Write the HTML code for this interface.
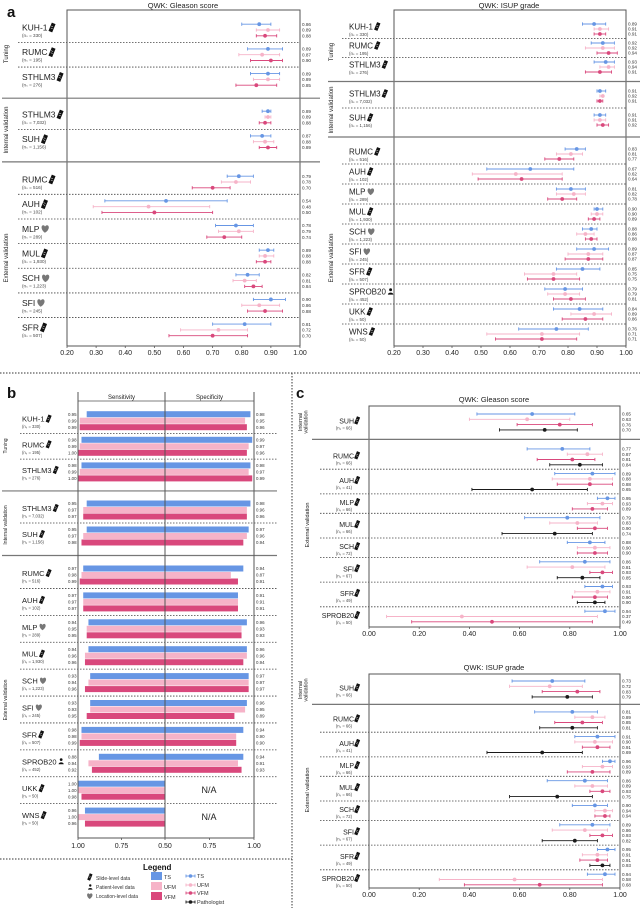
<!DOCTYPE html>
<html><head><meta charset="utf-8"><style>
html,body{margin:0;padding:0;background:#fff;}
svg{display:block;font-family:"Liberation Sans",Arial,sans-serif;}
</style></head><body>
<svg id="fig" width="640" height="908" viewBox="0 0 640 908" xmlns="http://www.w3.org/2000/svg">
<text x="7" y="17" font-size="15" font-weight="bold" fill="#111">a</text>
<text x="7" y="398" font-size="15" font-weight="bold" fill="#111">b</text>
<text x="296" y="398" font-size="15" font-weight="bold" fill="#111">c</text>
<text x="183" y="8" font-size="7.5" text-anchor="middle" fill="#222">QWK: Gleason score</text>
<text x="509" y="8" font-size="7.5" text-anchor="middle" fill="#222">QWK: ISUP grade</text>
<text x="494" y="402" font-size="7.5" text-anchor="middle" fill="#222">QWK: Gleason score</text>
<text x="494" y="670" font-size="7.5" text-anchor="middle" fill="#222">QWK: ISUP grade</text>
<line x1="0" y1="373" x2="640" y2="373" stroke="#333" stroke-width="1" stroke-dasharray="1.5,1.5"/>
<line x1="292" y1="373" x2="292" y2="908" stroke="#333" stroke-width="1" stroke-dasharray="1.5,1.5"/>
<line x1="0" y1="859" x2="292" y2="859" stroke="#333" stroke-width="1" stroke-dasharray="1.5,1.5"/>
<g id="legend">
<text x="143" y="870" font-size="8" font-weight="bold" fill="#111">Legend</text>
<text x="96" y="880" font-size="5" fill="#333">Slide-level data</text>
<text x="96" y="889" font-size="5" fill="#333">Patient-level data</text>
<text x="96" y="898" font-size="5" fill="#333">Location-level data</text>
<rect x="151" y="872" width="11" height="8" fill="#6796e4"/>
<rect x="151" y="882" width="11" height="8" fill="#f6b3c8"/>
<rect x="151" y="892" width="11" height="8" fill="#d9487c"/>
<text x="164" y="879" font-size="5.5" fill="#333">TS</text>
<text x="164" y="889" font-size="5.5" fill="#333">UFM</text>
<text x="164" y="899" font-size="5.5" fill="#333">VFM</text>
<text x="197" y="878" font-size="5.5" fill="#333">TS</text>
<text x="197" y="887" font-size="5.5" fill="#333">UFM</text>
<text x="197" y="895" font-size="5.5" fill="#333">VFM</text>
<text x="197" y="904" font-size="5.5" fill="#333">Pathologist</text>
</g>
</svg>
<script>
// ---------- DATA: panel a, QWK Gleason score [value, ciLow, ciHigh] ----------
const aGroups = ["KUH-1","RUMC","STHLM3","STHLM3","SUH","RUMC","AUH","MLP","MUL","SCH","SFI","SFR"];
const aNs = ["330","195","276","7,032","1,156","516","102","289","1,930","1,223","245","507"];
const aIcons = ["slide","slide","slide","slide","slide","slide","slide","loc","slide","loc","loc","slide"];
const aGleasonTS = [[0.86,0.80,0.90],[0.89,0.82,0.94],[0.89,0.83,0.93],[0.89,0.87,0.90],[0.87,0.83,0.90],[0.79,0.75,0.84],[0.54,0.33,0.75],[0.78,0.71,0.84],[0.89,0.86,0.91],[0.82,0.78,0.86],[0.90,0.84,0.95],[0.81,0.70,0.90]];
const aGleasonUFM = [[0.89,0.85,0.93],[0.87,0.79,0.93],[0.89,0.84,0.93],[0.89,0.88,0.90],[0.88,0.84,0.91],[0.78,0.73,0.83],[0.48,0.29,0.69],[0.79,0.72,0.84],[0.88,0.86,0.91],[0.81,0.77,0.85],[0.86,0.80,0.93],[0.72,0.59,0.82]];
const aGleasonVFM = [[0.88,0.85,0.92],[0.90,0.83,0.94],[0.85,0.78,0.92],[0.88,0.86,0.90],[0.89,0.86,0.92],[0.70,0.63,0.76],[0.50,0.32,0.70],[0.74,0.68,0.80],[0.88,0.85,0.90],[0.84,0.81,0.87],[0.88,0.82,0.94],[0.70,0.55,0.82]];
// ---------- DATA: panel a, QWK ISUP grade ----------
const aiGroups = ["KUH-1","RUMC","STHLM3","STHLM3","SUH","RUMC","AUH","MLP","MUL","SCH","SFI","SFR","SPROB20","UKK","WNS"];
const aiNs = ["330","195","276","7,032","1,156","516","102","289","1,930","1,223","245","507","452","50","50"];
const aiIcons = ["slide","slide","slide","slide","slide","slide","slide","loc","slide","loc","loc","slide","patient","slide","slide"];
const aIsupTS = [[0.89,0.85,0.93],[0.92,0.88,0.96],[0.93,0.89,0.96],[0.91,0.90,0.93],[0.91,0.89,0.93],[0.83,0.79,0.86],[0.67,0.52,0.82],[0.81,0.76,0.86],[0.90,0.89,0.92],[0.88,0.85,0.90],[0.89,0.83,0.94],[0.85,0.76,0.91],[0.79,0.72,0.85],[0.84,0.75,0.92],[0.76,0.63,0.87]];
const aIsupUFM = [[0.91,0.89,0.94],[0.92,0.86,0.96],[0.94,0.91,0.96],[0.92,0.91,0.92],[0.91,0.89,0.93],[0.81,0.76,0.85],[0.62,0.47,0.78],[0.82,0.76,0.86],[0.90,0.88,0.92],[0.86,0.83,0.89],[0.87,0.80,0.92],[0.75,0.65,0.83],[0.79,0.73,0.84],[0.89,0.81,0.95],[0.71,0.52,0.84]];
const aIsupVFM = [[0.91,0.89,0.93],[0.94,0.90,0.97],[0.91,0.86,0.95],[0.91,0.90,0.92],[0.92,0.90,0.94],[0.77,0.72,0.82],[0.64,0.49,0.78],[0.78,0.73,0.83],[0.89,0.87,0.91],[0.88,0.86,0.90],[0.87,0.79,0.92],[0.75,0.66,0.84],[0.81,0.75,0.86],[0.86,0.78,0.92],[0.71,0.55,0.83]];
const aTicks = ["0.20","0.30","0.40","0.50","0.60","0.70","0.80","0.90","1.00"];
// ---------- DATA: panel b, sensitivity / specificity ----------
const bGroups = ["KUH-1","RUMC","STHLM3","STHLM3","SUH","RUMC","AUH","MLP","MUL","SCH","SFI","SFR","SPROB20","UKK","WNS"];
const bNs = ["330","195","276","7,032","1,156","516","102","289","1,930","1,223","245","507","452","50","50"];
const bIcons = ["slide","slide","slide","slide","slide","slide","slide","loc","slide","loc","loc","slide","patient","slide","slide"];
const bSensTS = [0.95,0.98,0.98,0.95,0.95,0.97,0.97,0.94,0.94,0.93,0.93,0.98,0.88,1.00,0.96];
const bSensUFM = [0.99,0.99,0.99,0.97,0.97,0.98,0.97,0.95,0.96,0.94,0.93,0.98,0.94,1.00,1.00];
const bSensVFM = [0.99,1.00,1.00,0.97,0.98,0.99,0.97,0.95,0.96,0.96,0.95,0.99,0.92,0.98,0.96];
const bSpecTS = [0.98,0.99,0.98,0.98,0.97,0.94,0.91,0.96,0.96,0.97,0.96,0.94,0.94,null,null];
const bSpecUFM = [0.95,0.97,0.97,0.96,0.96,0.87,0.91,0.93,0.96,0.97,0.95,0.90,0.91,null,null];
const bSpecVFM = [0.96,0.96,0.99,0.96,0.94,0.91,0.91,0.93,0.94,0.97,0.89,0.90,0.93,null,null];
const bTicks = ["1.00","0.75","0.50","0.75","1.00"];
// ---------- DATA: panel c ----------
const cGroups = ["SUH","RUMC","AUH","MLP","MUL","SCH","SFI","SFR","SPROB20"];
const cNs = ["66","66","41","66","66","72","67","49","50"];
const cGleasonTS = [[0.65,0.43,0.82],[0.77,0.63,0.88],[0.89,0.74,0.98],[0.95,0.91,0.98],[0.79,0.62,0.92],[0.88,0.79,0.94],[0.86,0.68,0.96],[0.93,0.86,0.97],[0.94,0.86,0.98]];
const cGleasonUFM = [[0.63,0.40,0.80],[0.87,0.79,0.93],[0.88,0.73,0.97],[0.93,0.87,0.97],[0.83,0.72,0.91],[0.90,0.83,0.96],[0.81,0.63,0.94],[0.91,0.82,0.96],[0.37,0.07,0.91]];
const cGleasonVFM = [[0.76,0.59,0.89],[0.81,0.67,0.90],[0.88,0.75,0.97],[0.89,0.81,0.95],[0.90,0.83,0.95],[0.90,0.83,0.95],[0.93,0.88,0.97],[0.90,0.81,0.95],[0.49,0.17,0.89]];
const cGleasonPath = [[0.70,0.52,0.83],[0.84,0.72,0.93],[0.65,0.41,0.87],null,[0.74,0.53,0.89],null,[0.85,0.75,0.92],[0.90,0.83,0.94],null];
const cIsupTS = [[0.73,0.57,0.86],[0.81,0.66,0.91],[0.91,0.82,0.98],[0.96,0.93,0.98],[0.86,0.71,0.95],[0.90,0.81,0.95],[0.89,0.76,0.96],[0.95,0.91,0.98],[0.94,0.87,0.98]];
const cIsupUFM = [[0.72,0.56,0.85],[0.89,0.82,0.94],[0.90,0.82,0.97],[0.93,0.85,0.97],[0.89,0.82,0.95],[0.94,0.90,0.97],[0.86,0.73,0.95],[0.91,0.85,0.95],[0.58,0.28,0.93]];
const cIsupVFM = [[0.83,0.69,0.92],[0.85,0.74,0.93],[0.91,0.85,0.96],[0.89,0.79,0.96],[0.93,0.88,0.96],[0.94,0.90,0.96],[0.93,0.88,0.97],[0.91,0.84,0.95],[0.68,0.38,0.93]];
const cIsupPath = [[0.79,0.65,0.89],[0.81,0.68,0.91],[0.69,0.47,0.85],null,[0.75,0.56,0.89],null,[0.82,0.69,0.91],[0.93,0.88,0.96],null];
const cTicks = ["0.00","0.20","0.40","0.60","0.80","1.00"];

const COL = {ts:'#6796e4', ufm:'#f6b3c8', vfm:'#d9487c', path:'#1a1a1a'};
const svg = document.getElementById('fig');
const NS = 'http://www.w3.org/2000/svg';
function mk(tag, attrs, parent){ const e=document.createElementNS(NS,tag); for(const k in attrs) e.setAttribute(k,attrs[k]); (parent||svg).appendChild(e); return e; }
function txt(s, attrs, parent){ const e=mk('text',attrs,parent); e.textContent=s; return e; }

function icon(type, x, y, s, parent){
  const g = mk('g',{transform:'translate('+x+','+y+') scale('+s+')'},parent);
  
  
  if(type==='slide'){
    mk('rect',{x:-2,y:-4.5,width:4,height:9,fill:'#111',transform:'translate(2.5,0) rotate(22)'},g);
    mk('line',{x1:1.6,y1:-1.5,x2:3.6,y2:-0.7,stroke:'#fff','stroke-width':0.5},g);
    mk('line',{x1:1.2,y1:0.5,x2:3.2,y2:1.3,stroke:'#fff','stroke-width':0.5},g);
  } else if(type==='loc'){
    mk('path',{d:'M3.5,4 C-1,1 -0.5,-4 2,-3.5 C3,-3.3 3.5,-2.5 3.5,-2 C3.5,-2.5 4.5,-3.5 5.5,-3.5 C8,-3.5 8.5,1 3.5,4 Z',fill:'#777'},g);
  } else {
    mk('circle',{cx:3,cy:-2,r:1.6,fill:'#111'},g);
    mk('path',{d:'M0,3.5 C0,0.5 6,0.5 6,3.5 Z',fill:'#111'},g);
  }
  return g;
}

function drawForest(p){
  const root = mk('g',{});
  
  
  const xs = v => p.x0 + (v - p.vmin)/(p.vmax - p.vmin)*(p.x1 - p.x0);
  // box
  const box = mk('path',{d:'M'+p.x0+','+p.axisY+' V'+p.top+' H'+p.x1+' V'+p.axisY,fill:'none',stroke:'#555','stroke-width':1},root);
  
  
  const ax = mk('line',{x1:p.x0,y1:p.axisY,x2:p.x1,y2:p.axisY,stroke:'#555','stroke-width':1},root);
  
  
  p.ticks.forEach(t=>{
    const tx = xs(parseFloat(t));
    const tm = mk('line',{x1:tx,y1:p.axisY,x2:tx,y2:p.axisY+2,stroke:'#555','stroke-width':0.8},root);
    
    
    const tl = txt(t,{x:tx,y:p.axisY+9,'font-size':7,'text-anchor':'middle',fill:'#222'},root);
    
    
  });
  // rows
  const rows = [];
  let y = p.firstY, sec = 0, prevLast = null;
  p.groups.forEach((gname,i)=>{
    const present = p.series.filter(s => s.data[i]);
    if(p.sectionStarts.indexOf(i) >= 0 && i>0){ sec++; y = p.mode==='a' ? p.sections[sec][0]-p.step : prevLast + p.sectionGap; }
    else if(i>0){ y = p.mode==='a' ? p.sections[sec][0]-p.step + (i - p.sectionStarts[sec])*p.sections[sec][1] : prevLast + p.groupGap; }
    const ys = present.map((s,k)=> y + k*p.step);
    rows.push({ys, present});
    prevLast = ys[ys.length-1];
  });
  rows.forEach((r,i)=>{
    const center = (r.ys[0]+r.ys[r.ys.length-1])/2;
    const gg = mk('g',{},root);
    
    
    // separator
    if(i < rows.length-1){
      const sy = (r.ys[r.ys.length-1] + rows[i+1].ys[0])/2;
      const solid = p.sectionStarts.indexOf(i+1) >= 0;
      const sl = mk('line',{x1:solid?p.solidX[0]:p.dashX[0],y1:sy,x2:solid?p.solidX[1]:p.dashX[1],y2:sy,stroke:solid?'#777':'#444','stroke-width':solid?1.2:0.8,'stroke-dasharray':solid?'none':'1.5,1.5'},root);
      
      
    }
    // name
    const nm = txt(p.groups[i],{x:p.nameX,y:center+p.nameDy,'font-size':p.nameFont,'text-anchor':p.anchor,fill:'#222'},gg);
    
    
    const w = nm.getComputedTextLength();
    const ix = p.anchor==='end' ? p.nameX + 1 : p.nameX + w + 2;
    icon(p.icons[i], ix, center+p.nameDy-3, p.iconScale, gg);
    const nn = txt('(n\u209B = '+p.ns[i]+')',{x:p.anchor==='end'?p.nameX-2:p.nameX,y:center+p.nDy,'font-size':p.nFont,'text-anchor':p.anchor,fill:'#444'},gg);
    
    
    r.present.forEach((s,k)=>{
      const d = s.data[i], ry = r.ys[k];
      const m = mk('g',{},gg);
      
      
      const cl = mk('line',{x1:xs(d[1]),y1:ry,x2:xs(d[2]),y2:ry,stroke:s.color,'stroke-width':0.9},m);
      const c1 = mk('line',{x1:xs(d[1]),y1:ry-1.6,x2:xs(d[1]),y2:ry+1.6,stroke:s.color,'stroke-width':0.9},m);
      const c2 = mk('line',{x1:xs(d[2]),y1:ry-1.6,x2:xs(d[2]),y2:ry+1.6,stroke:s.color,'stroke-width':0.9},m);
      const dot = mk('circle',{cx:xs(d[0]),cy:ry,r:1.9,fill:s.color},m);
      
      
      const vl = txt(d[0].toFixed(2),{x:p.valX,y:ry+1.7,'font-size':4.6,fill:'#333'},gg);
      
      
    });
  });
  // section labels
  p.secLabels.forEach(sl=>{
    const t = mk('text',{transform:'translate('+sl[1]+','+sl[2]+') rotate(-90)','font-size':p.secFont,'text-anchor':'middle',fill:'#222'},root);
    
    
    sl[0].split('|').forEach((line,li)=>{ const ts = mk('tspan',{x:0,dy:li?p.secFont:0},t); ts.textContent=line; });
  });
}

drawForest({name:'forest-a-gleason',mode:'a',x0:67,x1:300,vmin:0.2,vmax:1,top:10,axisY:346,ticks:aTicks,
  groups:aGroups,ns:aNs,icons:aIcons,
  series:[{data:aGleasonTS,color:COL.ts,key:'ts'},{data:aGleasonUFM,color:COL.ufm,key:'ufm'},{data:aGleasonVFM,color:COL.vfm,key:'vfm'}],
  sectionStarts:[0,3,5],sections:[[30,24.7],[117,24.7],[182,24.65]],firstY:24.2,step:5.8,
  solidX:[2,320],dashX:[18,300],nameX:22,nameDy:0.5,nDy:7,nameFont:8.5,nFont:4.6,anchor:'start',iconScale:1,valX:302,
  secLabels:[['Tuning',8,54],['Internal validation',8,130],['External validation',8,258]],secFont:6});

drawForest({name:'forest-a-isup',mode:'a',x0:394,x1:626,vmin:0.2,vmax:1,top:10,axisY:346,ticks:aTicks,
  groups:aiGroups,ns:aiNs,icons:aiIcons,
  series:[{data:aIsupTS,color:COL.ts,key:'ts'},{data:aIsupUFM,color:COL.ufm,key:'ufm'},{data:aIsupVFM,color:COL.vfm,key:'vfm'}],
  sectionStarts:[0,3,5],sections:[[29,19],[96,24],[154,20]],firstY:24,step:5,
  solidX:[328,640],dashX:[342,626],nameX:349,nameDy:0.5,nDy:7,nameFont:8,nFont:4.4,anchor:'start',iconScale:0.9,valX:628,
  secLabels:[['Tuning',333,52],['Internal validation',333,110],['External validation',333,258]],secFont:6});

drawForest({name:'forest-c-gleason',mode:'c',x0:369,x1:620,vmin:0,vmax:1,top:406,axisY:627,ticks:cTicks,
  groups:cGroups,ns:cNs,icons:cGroups.map(()=> 'slide'),
  series:[{data:cGleasonTS,color:COL.ts,key:'ts'},{data:cGleasonUFM,color:COL.ufm,key:'ufm'},{data:cGleasonVFM,color:COL.vfm,key:'vfm'},{data:cGleasonPath,color:COL.path,key:'pathologist'}],
  sectionStarts:[0,1],firstY:414,step:5.3,groupGap:8.8,sectionGap:19,
  solidX:[312,640],dashX:[320,620],nameX:354,nameDy:1.5,nDy:7.5,nameFont:7,nFont:4.2,anchor:'end',iconScale:0.85,valX:622,
  secLabels:[['Internal|validation',302,422],['External validation',309,525]],secFont:5.5});

drawForest({name:'forest-c-isup',mode:'c',x0:369,x1:620,vmin:0,vmax:1,top:674,axisY:888,ticks:cTicks,
  groups:cGroups,ns:cNs,icons:cGroups.map(()=> 'slide'),
  series:[{data:cIsupTS,color:COL.ts,key:'ts'},{data:cIsupUFM,color:COL.ufm,key:'ufm'},{data:cIsupVFM,color:COL.vfm,key:'vfm'},{data:cIsupPath,color:COL.path,key:'pathologist'}],
  sectionStarts:[0,1],firstY:681,step:5.3,groupGap:8.8,sectionGap:15,
  solidX:[312,640],dashX:[320,620],nameX:354,nameDy:1.5,nDy:7.5,nameFont:7,nFont:4.2,anchor:'end',iconScale:0.85,valX:622,
  secLabels:[['Internal|validation',302,690],['External validation',309,790]],secFont:5.5});

// ---------- panel b ----------
(function(){
  const root = mk('g',{});
  
  
  const XC = 165, XL = 78, XR = 254, TOP = 392, AXY = 838;
  const xS = v => XC - (v-0.5)/0.5*(XC-XL);
  const xP = v => XC + (v-0.5)/0.5*(XR-XC);
  const secs = [[420.7,25.6,0],[510,26,3],[575,26.9,5]];
  const starts = [0,3,5];
  const centers = bGroups.map((g,i)=>{ let s=0; for(let k=0;k<starts.length;k++) if(i>=starts[k]) s=k; return secs[s][0] + (i-starts[s])*secs[s][1]; });
  const series = [{s:bSensTS,p:bSpecTS,c:COL.ts,k:'ts'},{s:bSensUFM,p:bSpecUFM,c:COL.ufm,k:'ufm'},{s:bSensVFM,p:bSpecVFM,c:COL.vfm,k:'vfm'}];
  centers.forEach((cy,i)=>{
    const gg = mk('g',{},root);
    
    
    if(i<centers.length-1){
      const sy = (cy+6.5 + centers[i+1]-6.5)/2;
      const solid = starts.indexOf(i+1)>=0;
      const sl = mk('line',{x1:solid?2:20,y1:sy,x2:277,y2:sy,stroke:solid?'#777':'#444','stroke-width':solid?1.2:0.8,'stroke-dasharray':solid?'none':'1.5,1.5'},root);
      
      
    }
    series.forEach((sr,k)=>{
      const ry = cy + (k-1)*6.5;
      const b1 = mk('rect',{x:xS(sr.s[i]),y:ry-3,width:XC-xS(sr.s[i]),height:6,fill:sr.c},gg);
      
      
      const l1 = txt(sr.s[i].toFixed(2),{x:68,y:ry+1.6,'font-size':4.4,fill:'#333'},gg);
      
      
      if(sr.p[i]!==null){
        const b2 = mk('rect',{x:XC,y:ry-3,width:xP(sr.p[i])-XC,height:6,fill:sr.c},gg);
        
        
        const l2 = txt(sr.p[i].toFixed(2),{x:256,y:ry+1.6,'font-size':4.4,fill:'#333'},gg);
        
        
      }
    });
    if(bSpecTS[i]===null){
      const na = txt('N/A',{x:209,y:cy+3,'font-size':9,'text-anchor':'middle',fill:'#222'},gg);
      
      
    }
    const nm = txt(bGroups[i],{x:22,y:cy+1,'font-size':7.5,fill:'#222'},gg);
    
    
    icon(bIcons[i], 22+nm.getComputedTextLength()+2, cy-2, 0.85, gg);
    const nn = txt('(n\u209B = '+bNs[i]+')',{x:22,y:cy+7.5,'font-size':4.2,fill:'#444'},gg);
    
    
  });
  [XL,XC,XR].forEach(x=>{
    const v = mk('line',{x1:x,y1:TOP,x2:x,y2:AXY,stroke:'#555','stroke-width':1},root);
    
    
  });
  const hl = mk('line',{x1:XL,y1:401,x2:XR,y2:401,stroke:'#555','stroke-width':0.8},root);
  
  
  const ax = mk('line',{x1:XL,y1:AXY,x2:XR,y2:AXY,stroke:'#555','stroke-width':1},root);
  
  
  const h1 = txt('Sensitivity',{x:(XL+XC)/2,y:399,'font-size':6,'text-anchor':'middle',fill:'#222'},root);
  
  
  const h2 = txt('Specificity',{x:(XC+XR)/2,y:399,'font-size':6,'text-anchor':'middle',fill:'#222'},root);
  
  
  const tickVals = [1.0,0.75,0.5,0.75,1.0];
  bTicks.forEach((t,i)=>{
    const v = parseFloat(t);
    const tx = i<2 ? xS(v) : xP(v);
    const tm = mk('line',{x1:tx,y1:AXY,x2:tx,y2:AXY+2,stroke:'#555','stroke-width':0.8},root);
    
    
    const tl = txt(t,{x:tx,y:AXY+10,'font-size':7,'text-anchor':'middle',fill:'#222'},root);
    
    
  });
  [['Tuning',446],['Internal validation',525],['External validation',700]].forEach(s=>{
    const t = txt(s[0],{transform:'translate(7,'+s[1]+') rotate(-90)','font-size':5,'text-anchor':'middle',fill:'#222'},root);
    
    
  });
})();

// legend icons and line markers
(function(){
  const lg = document.getElementById('legend');
  icon('slide', 88, 877, 0.75, lg);
  icon('patient', 88, 887, 0.75, lg);
  icon('loc', 87, 896, 0.75, lg);
  [[COL.ts,876],[COL.ufm,885],[COL.vfm,893],[COL.path,902]].forEach(r=>{
    const g = mk('g',{},lg);
    
    
    mk('line',{x1:186,y1:r[1],x2:195,y2:r[1],stroke:r[0],'stroke-width':0.9},g);
    mk('line',{x1:186,y1:r[1]-1.5,x2:186,y2:r[1]+1.5,stroke:r[0],'stroke-width':0.9},g);
    mk('line',{x1:195,y1:r[1]-1.5,x2:195,y2:r[1]+1.5,stroke:r[0],'stroke-width':0.9},g);
    mk('circle',{cx:190.5,cy:r[1],r:1.8,fill:r[0]},g);
  });
})();
</script>
</body></html>
